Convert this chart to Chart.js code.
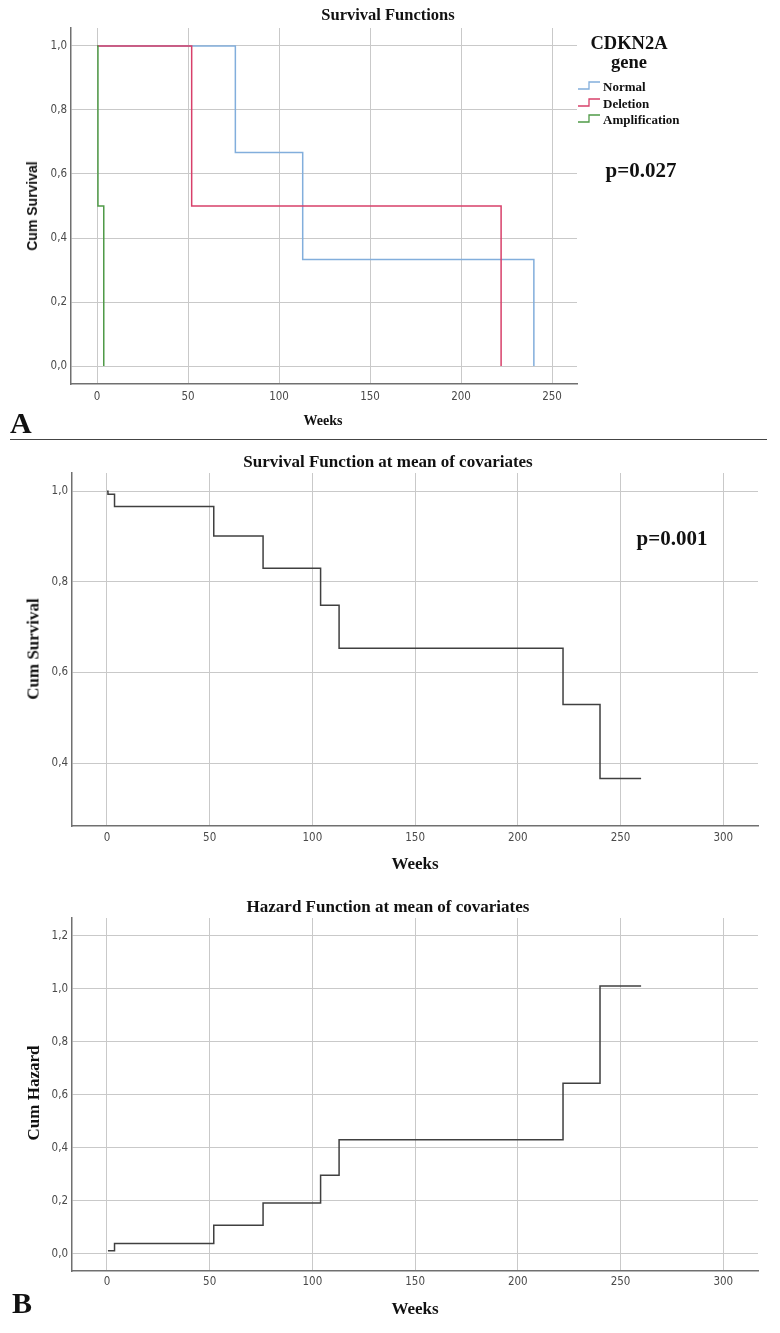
<!DOCTYPE html>
<html>
<head>
<meta charset="utf-8">
<script src="https://cdn.jsdelivr.net/npm/chart.js@4.4.1/dist/chart.umd.min.js"></script>
<style>
    body { margin: 0; background: #fff; width: 780px; height: 1333px; position: relative; overflow: hidden; font-family: 'Liberation Serif', 'Times New Roman', serif; }
    canvas { position: absolute; left: 0; }
    .txt { position: absolute; font-weight: bold; color: #111; white-space: nowrap; line-height: 1; transform: translate(-50%, -50%); }
    .rot { transform: translate(-50%, -50%) rotate(-90deg); }
    .left { transform: translate(0, -50%); }
    .sans { font-family: 'Liberation Sans', Arial, sans-serif; }
    .sep { position: absolute; left: 10px; width: 757px; top: 439px; height: 0; border-top: 1.5px solid #444; }
    .icon { position: absolute; width: 22px; height: 9px; }
</style>
</head>
<body>

<!-- A: Kaplan-Meier by CDKN2A gene -->
<canvas id="chart-a" width="600" height="420" style="top:0px"></canvas>
<div class="txt" style="left:388px; top:15px; font-size:16.5px">Survival Functions</div>
<div class="txt rot sans" style="left:32px; top:206px; font-size:14px">Cum Survival</div>
<div class="txt" style="left:323px; top:421px; font-size:14px">Weeks</div>
<div class="txt" style="left:629px; top:43px; font-size:18.5px">CDKN2A</div>
<div class="txt" style="left:629px; top:62px; font-size:18.5px">gene</div>
<div id="legend-a"></div>
<div class="txt" style="left:641px; top:170px; font-size:21px">p=0.027</div>
<div class="txt left" style="left:10px; top:423px; font-size:30px">A</div>
<div class="sep"></div>

<!-- B: Cox model at mean of covariates -->
<canvas id="chart-surv" width="780" height="410" style="top:450px"></canvas>
<div class="txt" style="left:388px; top:461px; font-size:17px">Survival Function at mean of covariates</div>
<div class="txt" style="left:672px; top:538px; font-size:21px">p=0.001</div>
<div class="txt rot" style="left:33px; top:649px; font-size:17px">Cum Survival</div>
<div class="txt" style="left:415px; top:863px; font-size:17px">Weeks</div>

<canvas id="chart-haz" width="780" height="410" style="top:890px"></canvas>
<div class="txt" style="left:388px; top:906px; font-size:17px">Hazard Function at mean of covariates</div>
<div class="txt rot" style="left:33px; top:1093px; font-size:17px">Cum Hazard</div>
<div class="txt" style="left:415px; top:1308px; font-size:17px">Weeks</div>
<div class="txt left" style="left:12px; top:1303px; font-size:30px">B</div>

<script>
// --- data ---
const groupNames = ['Normal', 'Deletion', 'Amplification'];
const groupColors = ['#82aedc', '#d8406a', '#4f9a47'];

const normalWeeks = [0, 76, 113, 240];
const normalSurvival = [1.0, 0.667, 0.333, 0.0];
const deletionWeeks = [0, 52, 222];
const deletionSurvival = [1.0, 0.5, 0.0];
const amplificationWeeks = [0, 0.5, 3.7];
const amplificationSurvival = [1.0, 0.5, 0.0];

const meanWeeks = [0, 0.5, 3.7, 52, 76, 104, 113, 222, 240, 260];
const meanSurvival = [1.0, 0.993, 0.966, 0.901, 0.830, 0.748, 0.653, 0.529, 0.366, 0.366];

const hazardWeeks = [0.5, 3.7, 52, 76, 104, 113, 222, 240, 260];
const meanHazard = [0.010, 0.038, 0.107, 0.191, 0.296, 0.430, 0.643, 1.010, 1.010];

const weekTicksA = [0, 50, 100, 150, 200, 250];
const weekTicksB = [0, 50, 100, 150, 200, 250, 300];
const survTicksA = [0.0, 0.2, 0.4, 0.6, 0.8, 1.0];
const survTicksB = [0.4, 0.6, 0.8, 1.0];
const hazardTicks = [0.0, 0.2, 0.4, 0.6, 0.8, 1.0, 1.2];

const GRID = '#c9c9c9';
const AXIS = '#707070';
const TICK = '#4a4a4a';
const tickFont = { family: "'Liberation Sans Narrow', 'DejaVu Sans Condensed', sans-serif", size: 11.5 };

function toPoints(xs, ys) {
    return xs.map((x, i) => ({ x, y: ys[i] }));
}

function stepLine(xs, ys, color, order) {
    return {
        data: toPoints(xs, ys),
        borderColor: color,
        borderWidth: 1.5,
        stepped: 'before',
        pointRadius: 0,
        fill: false,
        order
    };
}

function makeChart(id, datasets, cfg) {
    const ctx = document.getElementById(id).getContext('2d');
    return new Chart(ctx, {
        type: 'line',
        data: { datasets },
        options: {
            responsive: false,
            animation: false,
            layout: { padding: cfg.padding },
            plugins: { legend: { display: false }, tooltip: { enabled: false } },
            scales: {
                x: {
                    type: 'linear',
                    min: cfg.xMin, max: cfg.xMax,
                    afterBuildTicks: s => { s.ticks = cfg.xTicks.map(v => ({ value: v })); },
                    afterFit: s => { s.height = 24; },
                    grid: { color: GRID, lineWidth: 1, drawTicks: false },
                    border: { display: true, color: AXIS, width: 1.5 },
                    ticks: { padding: cfg.xPad, color: TICK, font: tickFont, autoSkip: false, maxRotation: 0, callback: v => String(v) }
                },
                y: {
                    type: 'linear',
                    min: cfg.yMin, max: cfg.yMax,
                    afterBuildTicks: s => { s.ticks = cfg.yTicks.map(v => ({ value: v })); },
                    afterFit: s => { s.width = cfg.yWidth; },
                    grid: { color: GRID, lineWidth: 1, drawTicks: false },
                    border: { display: true, color: AXIS, width: 1.5 },
                    ticks: { padding: 4, color: TICK, font: tickFont, autoSkip: false, callback: v => v.toFixed(1).replace('.', ',') }
                }
            }
        }
    });
}

// --- A ---
makeChart('chart-a', [
    stepLine(normalWeeks, normalSurvival, groupColors[0], 3),
    stepLine(deletionWeeks, deletionSurvival, groupColors[1], 2),
    stepLine(amplificationWeeks, amplificationSurvival, groupColors[2], 1)
], {
    padding: { left: 0, top: 28, right: 23, bottom: 12 },
    yWidth: 71,
    xMin: -14.3, xMax: 263.7, xTicks: weekTicksA, xPad: 6,
    yMin: -0.056, yMax: 1.056, yTicks: survTicksA
});

// legend for A (little step glyphs like SPSS)
const legend = document.getElementById('legend-a');
groupNames.forEach((name, i) => {
    const y = 86 + i * 16.5;
    const c = groupColors[i];
    legend.insertAdjacentHTML('beforeend',
        `<svg class="icon" style="left:578px; top:${y - 5}px" viewBox="0 0 22 9"><polyline points="0,8 11,8 11,1 22,1" fill="none" stroke="${c}" stroke-width="1.3"/></svg>` +
        `<div class="txt left" style="left:603px; top:${y}px; font-size:13px">${name}</div>`);
});

// --- B: survival ---
makeChart('chart-surv', [
    stepLine(meanWeeks, meanSurvival, '#404040', 1)
], {
    padding: { left: 0, top: 23, right: 22, bottom: 10 },
    yWidth: 72,
    xMin: -17.0, xMax: 316.9, xTicks: weekTicksB, xPad: 5,
    yMin: 0.261, yMax: 1.040, yTicks: survTicksB
});

// --- B: hazard ---
makeChart('chart-haz', [
    stepLine(hazardWeeks, meanHazard, '#404040', 1)
], {
    padding: { left: 0, top: 28, right: 22, bottom: 5 },
    yWidth: 72,
    xMin: -17.0, xMax: 316.9, xTicks: weekTicksB, xPad: 4,
    yMin: -0.066, yMax: 1.267, yTicks: hazardTicks
});
</script>
</body>
</html>
